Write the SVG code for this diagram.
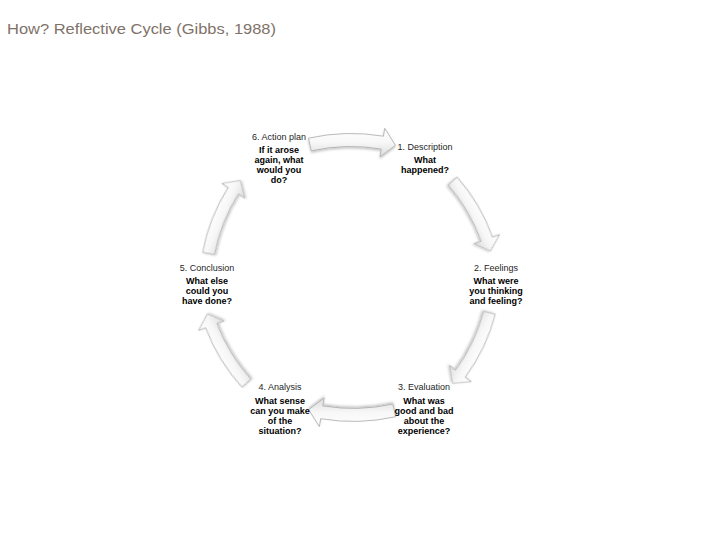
<svg xmlns="http://www.w3.org/2000/svg" width="728" height="546" viewBox="0 0 728 546">
<defs>
<linearGradient id="ag" x1="0" y1="0" x2="0" y2="1">
<stop offset="0" stop-color="#ffffff"/>
<stop offset="0.5" stop-color="#f7f7f7"/>
<stop offset="1" stop-color="#dcdcdc"/>
</linearGradient>
<filter id="sh" x="-20%" y="-20%" width="140%" height="140%">
<feDropShadow dx="0" dy="1.5" stdDeviation="1.2" flood-color="#000" flood-opacity="0.25"/>
</filter>
<path id="arr" d="M309.47,139.16 A196.5,196.5 0 0 1 384.43,137.19 L385.75,129.30 L396.36,146.25 L380.97,157.91 L382.29,150.02 A183.5,183.5 0 0 0 312.28,151.85 Z"/>
</defs>
<style>
.title{font-family:"Liberation Sans",Arial,sans-serif;font-size:15.5px;fill:#7f7269}
.lbl{font-family:"Liberation Sans",Arial,sans-serif;font-size:9px;fill:#262626;text-anchor:middle}
.bd{font-family:"Liberation Sans",Arial,sans-serif;font-size:9px;font-weight:bold;fill:#000;text-anchor:middle}
.a{fill:url(#ag);stroke:#a9a9a9;stroke-width:0.8;filter:url(#sh)}
</style>
<rect width="728" height="546" fill="#ffffff"/>
<text class="title" x="7" y="34" textLength="269" lengthAdjust="spacingAndGlyphs">How? Reflective Cycle (Gibbs, 1988)</text>
<g id="connectors">
<use href="#arr" class="a" transform="translate(-1,-1)"/>
<use href="#arr" class="a" transform="translate(471.5,216) rotate(61) scale(0.93) translate(-353.6,-145.9)"/>
<use href="#arr" class="a" transform="translate(471,348) rotate(117) scale(0.93) translate(-353.6,-145.9)"/>
<use href="#arr" class="a" transform="translate(351.5,410) rotate(180) translate(-353.6,-145.9)"/>
<use href="#arr" class="a" transform="translate(227,348.5) rotate(240) scale(0.93) translate(-353.6,-145.9)"/>
<use href="#arr" class="a" transform="translate(224.5,217) rotate(293) scale(0.93) translate(-353.6,-145.9)"/>
</g>
<g id="n1">
<text class="lbl" x="425" y="150">1. Description</text>
<text class="bd" x="425" y="163">What</text>
<text class="bd" x="425" y="173">happened?</text>
</g>
<g id="n2">
<text class="lbl" x="496" y="270.5">2. Feelings</text>
<text class="bd" x="496" y="284">What were</text>
<text class="bd" x="496" y="294">you thinking</text>
<text class="bd" x="496" y="304">and feeling?</text>
</g>
<g id="n3">
<text class="lbl" x="424" y="389.5">3. Evaluation</text>
<text class="bd" x="424" y="403.5">What was</text>
<text class="bd" x="424" y="413.5">good and bad</text>
<text class="bd" x="424" y="423.5">about the</text>
<text class="bd" x="424" y="433.5">experience?</text>
</g>
<g id="n4">
<text class="lbl" x="280" y="389.5">4. Analysis</text>
<text class="bd" x="280" y="403.5">What sense</text>
<text class="bd" x="280" y="413.5">can you make</text>
<text class="bd" x="280" y="423.5">of the</text>
<text class="bd" x="280" y="433.5">situation?</text>
</g>
<g id="n5">
<text class="lbl" x="207" y="270.5">5. Conclusion</text>
<text class="bd" x="207" y="284">What else</text>
<text class="bd" x="207" y="294">could you</text>
<text class="bd" x="207" y="304">have done?</text>
</g>
<g id="n6">
<text class="lbl" x="279" y="139.5">6. Action plan</text>
<text class="bd" x="279" y="153">If it arose</text>
<text class="bd" x="279" y="163">again, what</text>
<text class="bd" x="279" y="173">would you</text>
<text class="bd" x="279" y="183">do?</text>
</g>
</svg>
